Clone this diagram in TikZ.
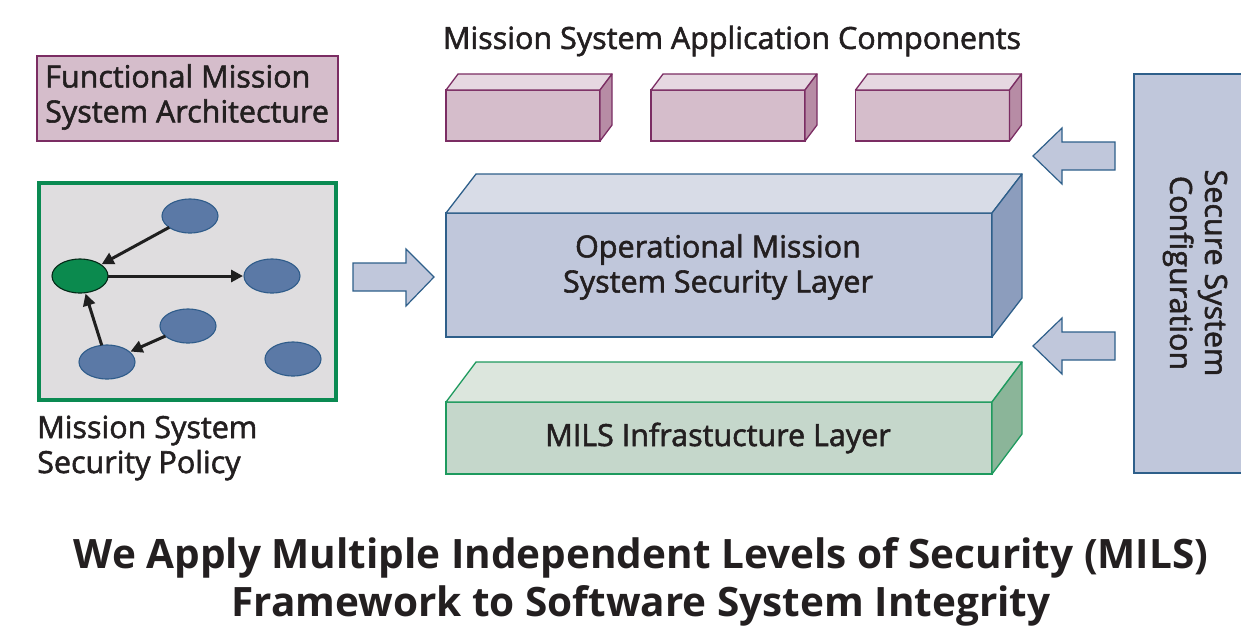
\documentclass[tikz,border=0pt]{standalone}
\usepackage{fontspec}
\setmainfont{Open Sans}
\newcommand{\semitext}[1]{\special{pdf:literal direct 2 Tr 0.55 w}#1\special{pdf:literal direct 0 Tr}}
\usetikzlibrary{arrows.meta,shapes.geometric}
\definecolor{txt}{HTML}{231F20}
\definecolor{pinkF}{HTML}{D5BDCB}
\definecolor{pinkT}{HTML}{E6D8E1}
\definecolor{pinkS}{HTML}{B78CA5}
\definecolor{pinkB}{HTML}{7B2D63}
\definecolor{blueF}{HTML}{C0C7DB}
\definecolor{blueT}{HTML}{D8DCE7}
\definecolor{blueS}{HTML}{8C9DBD}
\definecolor{blueB}{HTML}{2E5F8A}
\definecolor{greenF}{HTML}{C5D7CB}
\definecolor{greenT}{HTML}{DCE6DD}
\definecolor{greenS}{HTML}{8BB599}
\definecolor{greenB}{HTML}{1E9A5E}
\definecolor{ellF}{HTML}{5B79A6}
\definecolor{ellB}{HTML}{2F5C8A}
\definecolor{ellG}{HTML}{0B8A4E}
\definecolor{greyF}{HTML}{DFDDDF}
\definecolor{polB}{HTML}{0A8A52}
\tikzset{
  lbl/.style={text=txt,inner sep=0pt,font=\fontsize{30.5}{35}\selectfont},
  front/.style={rectangle,outer sep=0pt,inner sep=0pt,line width=1.3pt},
  ell/.style={ellipse,minimum width=56pt,minimum height=34pt,inner sep=0pt,outer sep=0pt,fill=ellF,draw=ellB,line width=1.1pt},
  link/.style={line width=3pt,draw=black!88,-{Triangle[length=12pt,width=12pt]},shorten >=1pt},
  blockarrow/.style={fill=blueF,draw=blueB,line width=1.2pt,line join=miter}
}
\newcommand{\cuboid}[6]{% name, dx, dy, topcolor, sidecolor, bordercolor
  \filldraw[fill=#4,draw=#6,line width=1.3pt,line join=round] (#1.north west) -- ([shift={(#2,-#3)}]#1.north west) -- ([shift={(#2,-#3)}]#1.north east) -- (#1.north east) -- cycle;
  \filldraw[fill=#5,draw=#6,line width=1.3pt,line join=round] (#1.north east) -- ([shift={(#2,-#3)}]#1.north east) -- ([shift={(#2,-#3)}]#1.south east) -- (#1.south east) -- cycle;
}
\begin{document}
\begin{tikzpicture}[x=1pt,y=-1pt]
\useasboundingbox (0,0) rectangle (1241,630);

% Functional mission system architecture
\node[front,fill=pinkF,draw=pinkB,minimum width=301pt,minimum height=85pt] (fmsa) at (187.5,98.5) {};
\node[lbl,anchor=west,align=left] (fmsatxt) at (45,97) {\semitext{Functional Mission}\\\semitext{System Architecture}};

% Policy box
\node[front,fill=greyF,draw=polB,line width=4pt,minimum width=297pt,minimum height=217pt] (pol) at (187.5,291) {};
\node[ell] (e1) at (190,216) {};
\node[ell,fill=ellG,draw=black!70!ellG] (eg) at (80,276) {};
\node[ell] (e2) at (272,276) {};
\node[ell] (e3) at (188,326) {};
\node[ell] (e4) at (107,362) {};
\node[ell] (e5) at (293,359) {};
\draw[link] (e1) -- (eg);
\draw[link] (eg) -- (e2);
\draw[link] (e3) -- (e4);
\draw[link] (e4) -- (eg);
\node[lbl,anchor=west,align=left] (poltxt) at (37,448) {\semitext{Mission System}\\\semitext{Security Policy}};

% arrow policy -> layer
\coordinate (ra) at (353,277);
\draw[blockarrow] (ra) ++(0,-14) -- ++(53,0) -- ++(0,-14) -- ++(28,28) -- ++(-28,29) -- ++(0,-15) -- ++(-53,0) -- cycle;

% Application components
\node[lbl] (apptxt) at (732,41) {\semitext{Mission System Application Components}};
\node[front,fill=pinkF,draw=pinkB,minimum width=154pt,minimum height=51pt] (c1) at (523,115.5) {};
\node[front,fill=pinkF,draw=pinkB,minimum width=154pt,minimum height=51pt] (c2) at (728,115.5) {};
\node[front,fill=pinkF,draw=pinkB,minimum width=154pt,minimum height=51pt] (c3) at (932.5,115.5) {};
\cuboid{c1}{12}{16}{pinkT}{pinkS}{pinkB}
\cuboid{c2}{12}{16}{pinkT}{pinkS}{pinkB}
\cuboid{c3}{12}{16}{pinkT}{pinkS}{pinkB}

% Operational layer
\node[front,fill=blueF,draw=blueB,minimum width=546pt,minimum height=124pt] (op) at (719,275) {};
\cuboid{op}{30}{39}{blueT}{blueS}{blueB}
\node[lbl,align=center] (optxt) at (718,267) {\semitext{Operational Mission}\\\semitext{System Security Layer}};

% MILS layer
\node[front,fill=greenF,draw=greenB,minimum width=546pt,minimum height=72pt] (mils) at (719,438) {};
\cuboid{mils}{30}{40}{greenT}{greenS}{greenB}
\node[lbl] (milstxt) at (718,438) {\semitext{MILS Infrastucture Layer}};

% Secure system configuration
\node[front,fill=blueF,draw=blueB,line width=1.3pt,minimum width=120pt,minimum height=399pt] (sec) at (1194,273.5) {};
\node[lbl,align=center,rotate=-90] (sectxt) at (1195,273) {\semitext{Secure System}\\\semitext{Configuration}};

% left arrows
\coordinate (la1) at (1033,156);
\coordinate (la2) at (1033,346);
\foreach \c in {la1,la2}{
  \draw[blockarrow] (\c) -- ++(29,-28) -- ++(0,14) -- ++(53,0) -- ++(0,28) -- ++(-53,0) -- ++(0,14) -- cycle;
}

% Title
\node[text=txt,inner sep=0pt,align=center,font=\fontsize{40.5}{48}\selectfont\bfseries] (title) at (641,582) {We Apply Multiple Independent Levels of Security (MILS)\\Framework to Software System Integrity};
\end{tikzpicture}
\end{document}
